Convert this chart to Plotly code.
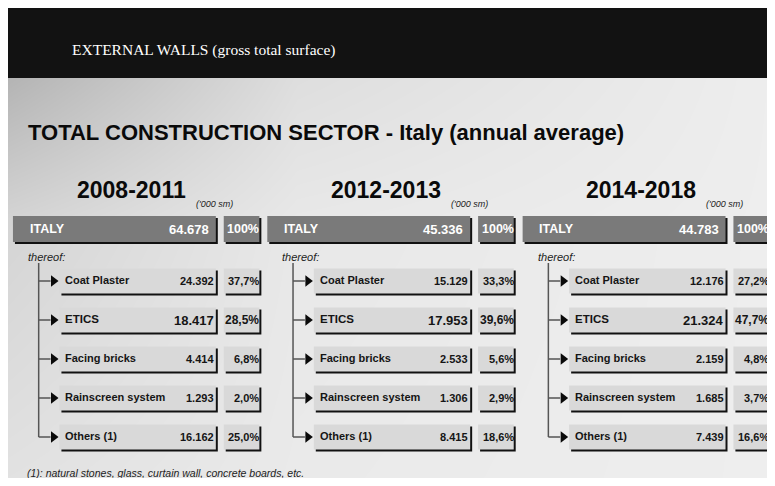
import plotly.graph_objects as go

# ---- Data (thousand sq. m, annual average) ----
periods = ["2008-2011", "2012-2013", "2014-2018"]
italy_totals = [64678, 45336, 44783]
items = ["Coat Plaster", "ETICS", "Facing bricks", "Rainscreen system", "Others (1)"]
values_2008_2011 = [24392, 18417, 4414, 1293, 16162]
values_2012_2013 = [15129, 17953, 2533, 1306, 8415]
values_2014_2018 = [12176, 21324, 2159, 1685, 7439]
shares_2008_2011 = [37.7, 28.5, 6.8, 2.0, 25.0]
shares_2012_2013 = [33.3, 39.6, 5.6, 2.9, 18.6]
shares_2014_2018 = [27.2, 47.7, 4.8, 3.7, 16.6]

values = [values_2008_2011, values_2012_2013, values_2014_2018]
shares = [shares_2008_2011, shares_2012_2013, shares_2014_2018]

# the page body has an 8px margin, so the figure starts at page coords (8, 8)
PAGE_W, PAGE_H, OFF = 775, 486, 8
FONT = "Liberation Sans"


def it_num(v):
    return f"{v:,}".replace(",", ".")


def it_pct(s):
    return f"{s:.1f}".replace(".", ",") + "%"


# ---- Layout constants (page pixels) ----
panel_x = [13, 270, 528]
row_y0, row_step = 281, 39
italy_y = 229

fig = go.Figure()

# background gradient (darker top-left, lighter to the right / bottom)
fig.add_trace(go.Heatmap(
    x=[8, 300, 790], y=[78, 220, 486],
    z=[[180, 222, 238], [212, 232, 238], [226, 234, 238]],
    zsmooth="best", colorscale=[[0, "rgb(170,170,170)"], [1, "rgb(240,240,240)"]],
    zmin=170, zmax=240, showscale=False, hoverinfo="skip"))

shapes = []
ann = []

# black header band
shapes.append(dict(type="rect", x0=0, x1=800, y0=0, y1=78, fillcolor="#121212", line_width=0))

ann.append(dict(x=71, y=50, text="EXTERNAL WALLS (gross total surface)", xanchor="left",
                font=dict(family="Liberation Serif", size=15.5, color="white")))
ann.append(dict(x=26, y=132, text="TOTAL CONSTRUCTION SECTOR - Italy (annual average)",
                xanchor="left", font=dict(family=FONT, size=22, color="#0a0a0a", weight="bold")))


def box(x0, x1, yc, h, fill):
    # black drop shadow first, then the box on top
    shapes.append(dict(type="rect", x0=x0 + 2, x1=x1 + 2, y0=yc - h / 2 + 2, y1=yc + h / 2 + 2,
                       fillcolor="#111111", line_width=0))
    shapes.append(dict(type="rect", x0=x0, x1=x1, y0=yc - h / 2, y1=yc + h / 2,
                       fillcolor=fill, line_width=0))


arrow_x, arrow_y = [], []
for p, x0 in enumerate(panel_x):
    ann.append(dict(x=x0 + 120, y=190, text=periods[p], xanchor="center",
                    font=dict(family=FONT, size=23, color="#0a0a0a", weight="bold")))
    ann.append(dict(x=x0 + 204, y=204, text="('000 sm)", xanchor="center",
                    font=dict(family=FONT, size=9, color="#222", style="italic")))

    # Italy total row
    box(x0, x0 + 205, italy_y, 26, "#7a7a7a")
    box(x0 + 213, x0 + 249, italy_y, 26, "#7a7a7a")
    ann.append(dict(x=x0 + 15, y=italy_y, text="ITALY", xanchor="left",
                    font=dict(family=FONT, size=12.5, color="white", weight="bold")))
    ann.append(dict(x=x0 + 200, y=italy_y, text=it_num(italy_totals[p]), xanchor="right",
                    font=dict(family=FONT, size=13, color="white", weight="bold")))
    ann.append(dict(x=x0 + 251, y=italy_y, text="100%", xanchor="right",
                    font=dict(family=FONT, size=12.5, color="white", weight="bold")))

    ann.append(dict(x=x0 + 13, y=257, text="thereof:", xanchor="left",
                    font=dict(family=FONT, size=11, color="#222", style="italic")))

    # tree
    last_y = row_y0 + row_step * (len(items) - 1)
    shapes.append(dict(type="line", x0=x0 + 26, x1=x0 + 26, y0=263, y1=last_y,
                       line=dict(color="#555", width=1.5)))

    for i, name in enumerate(items):
        yc = row_y0 + row_step * i
        big = name == "ETICS"
        shapes.append(dict(type="line", x0=x0 + 26, x1=x0 + 38, y0=yc, y1=yc,
                           line=dict(color="#555", width=1.5)))
        arrow_x.append(x0 + 41)
        arrow_y.append(yc)
        box(x0 + 47, x0 + 205, yc, 25, "#d9d9d9")
        box(x0 + 213, x0 + 249, yc, 25, "#d9d9d9")
        ann.append(dict(x=x0 + 51, y=yc - 1, text=name, xanchor="left",
                        font=dict(family=FONT, size=11.5 if big else 11, color="#151515", weight="bold")))
        ann.append(dict(x=x0 + 205, y=yc, text=it_num(values[p][i]), xanchor="right",
                        font=dict(family=FONT, size=13 if big else 11, color="#151515", weight="bold")))
        ann.append(dict(x=x0 + 251, y=yc, text=it_pct(shares[p][i]), xanchor="right",
                        font=dict(family=FONT, size=12 if big else 11, color="#151515", weight="bold")))

fig.add_trace(go.Scatter(x=arrow_x, y=arrow_y, mode="markers", hoverinfo="skip",
                         marker=dict(symbol="triangle-right", size=10, color="#0a0a0a")))

ann.append(dict(x=25, y=473, text="(1): natural stones, glass, curtain wall, concrete boards, etc.",
                xanchor="left", font=dict(family=FONT, size=10.5, color="#222", style="italic")))

for a in ann:
    a.update(xref="x", yref="y", showarrow=False, yanchor="middle")

# only ~759px of the figure width are visible, so squeeze x by ~1% to keep the
# right-hand column on screen
fig.update_layout(
    width=PAGE_W - OFF, height=PAGE_H - 2 * OFF, margin=dict(l=0, r=0, t=0, b=0),
    paper_bgcolor="white", plot_bgcolor="white", showlegend=False,
    shapes=shapes, annotations=ann,
    xaxis=dict(range=[OFF, 783], visible=False, fixedrange=True),
    yaxis=dict(range=[PAGE_H - OFF, OFF], visible=False, fixedrange=True),
)

fig.write_html("out.html")
